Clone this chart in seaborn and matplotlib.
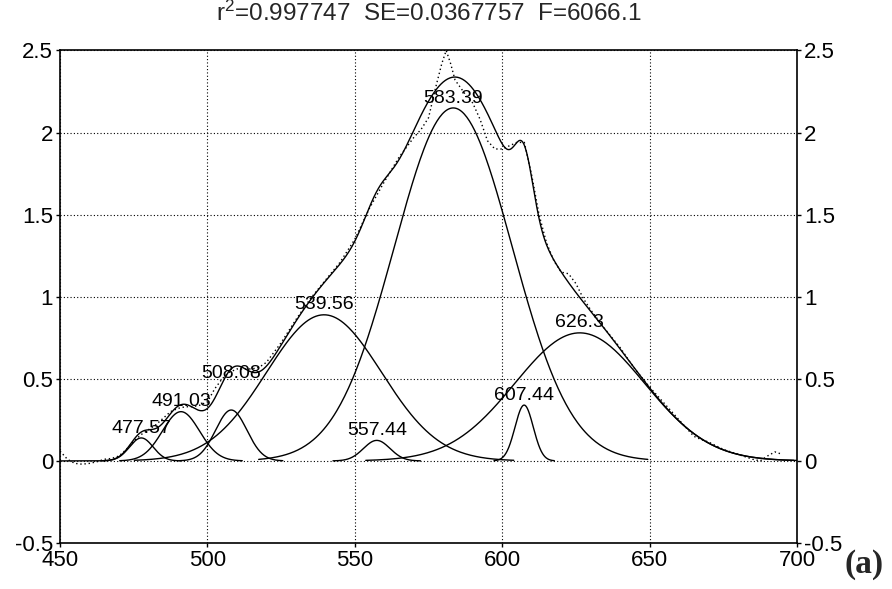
import numpy as np
import matplotlib
matplotlib.use("Agg")
import matplotlib.pyplot as plt
from matplotlib.ticker import FuncFormatter
import seaborn as sns

# fitted peaks: centre (nm), height, gaussian width (nm)
peak_centers = [477.57, 491.03, 508.08, 539.56, 557.44, 583.39, 607.44, 626.3]
peak_heights = [0.14, 0.30, 0.31, 0.89, 0.125, 2.15, 0.34, 0.78]
peak_widths = [4.0, 6.3, 5.3, 19.5, 4.5, 20.0, 3.1, 22.0]
peak_labels = ["477.57", "491.03", "508.08", "539.56", "557.44", "583.39", "607.44", "626.3"]

# measured spectrum (dotted)
obs_nm = [450, 452.5, 455, 457.5, 460, 462.5, 465, 467.5, 470, 472.5, 475, 477.5,
          480, 482.5, 485, 487.5, 490, 492.5, 495, 497.5, 500, 502.5, 505, 507.5,
          510, 512.5, 515, 517.5, 520, 525, 530, 535, 540, 545, 550, 555, 560, 565,
          570, 572.5, 575, 577.5, 579.5, 581, 582.5, 584, 586, 588, 590, 592.5, 595,
          597.5, 600, 602.5, 605, 607.5, 610, 612.5, 615, 617.5, 620, 622.5, 625,
          627.5, 630, 635, 640, 645, 650, 655, 657.5, 660, 662.5, 665, 667.5, 670,
          675, 680, 685, 687.5, 690, 692.5, 695]
obs_abs = [0.06, 0.01, -0.015, -0.02, -0.015, -0.005, 0.01, 0.015, 0.03, 0.07, 0.12, 0.16,
           0.19, 0.22, 0.26, 0.30, 0.32, 0.33, 0.33, 0.34, 0.36, 0.44, 0.50, 0.54,
           0.56, 0.56, 0.56, 0.57, 0.60, 0.72, 0.86, 0.99, 1.10, 1.21, 1.35, 1.54, 1.70, 1.85,
           1.97, 2.02, 2.09, 2.28, 2.42, 2.50, 2.42, 2.32, 2.27, 2.22, 2.18, 2.08, 1.95,
           1.90, 1.90, 1.92, 1.94, 1.94, 1.74, 1.50, 1.33, 1.22, 1.15, 1.14, 1.08,
           0.99, 0.92, 0.80, 0.69, 0.56, 0.45, 0.35, 0.30, 0.25, 0.20, 0.15, 0.13, 0.115,
           0.07, 0.04, 0.01, 0.0, 0.03, 0.055, 0.04]

title_text = "r$^2$=0.997747  SE=0.0367757  F=6066.1"
x_ticks = [450, 500, 550, 600, 650, 700]
y_ticks = [-0.5, 0, 0.5, 1, 1.5, 2, 2.5]


def gauss(x, c, h, w):
    return h * np.exp(-(x - c) ** 2 / (2 * w * w))


sns.set_theme(style="white")
plt.rcParams["font.family"] = ["Liberation Sans", "DejaVu Sans"]
plt.rcParams["mathtext.fontset"] = "custom"
plt.rcParams["mathtext.rm"] = "Liberation Sans"
plt.rcParams["mathtext.default"] = "regular"

fig = plt.figure(figsize=(8.92, 5.89), dpi=100)
ax = fig.add_axes([0.0673, 0.0781, 0.8262, 0.8362])

grid_x = np.linspace(450, 700, 1001)
fit = np.zeros_like(grid_x)
for c, h, w in zip(peak_centers, peak_heights, peak_widths):
    fit += gauss(grid_x, c, h, w)
sns.lineplot(x=grid_x, y=fit, color="black", lw=1.0, ax=ax, estimator=None, sort=False)

for c, h, w, lab in zip(peak_centers, peak_heights, peak_widths, peak_labels):
    xs = np.linspace(max(450, c - 3.3 * w), min(700, c + 3.3 * w), 300)
    sns.lineplot(x=xs, y=gauss(xs, c, h, w), color="black", lw=1.0, ax=ax,
                 estimator=None, sort=False)
    # the 508.08 label is pushed up so it clears the 491.03 one
    off = 20 if lab == "508.08" else 1
    ax.annotate(lab, (c, h), xytext=(0, off), textcoords="offset points",
                ha="center", va="bottom", fontsize=14, color="black")

sns.lineplot(x=obs_nm, y=obs_abs, color="black", lw=1.0, linestyle=(0, (1, 2)),
             ax=ax, estimator=None, sort=False)

ax.set_xlim(450, 700)
ax.set_ylim(-0.5, 2.5)
ax.set_xticks(x_ticks)
ax.set_yticks(y_ticks)
ax.yaxis.set_major_formatter(FuncFormatter(lambda v, p: "%g" % v))
ax.set_xlabel("")
ax.set_ylabel("")
ax.grid(True, color="black", linestyle=(0, (1, 2)), linewidth=0.8)
ax.tick_params(axis="both", direction="out", length=3, width=1, color="black",
               labelsize=16, labelcolor="black", pad=2)
ax.tick_params(axis="y", right=True, labelright=True, left=True)
ax.tick_params(axis="x", bottom=True)
for sp in ax.spines.values():
    sp.set_color("black")
    sp.set_linewidth(1.2)

fig.text(429 / 892, 1 - 13 / 589, title_text, ha="center", va="center", fontsize=17.5)
fig.text(864 / 892, 1 - 565 / 589, "(a)", ha="center", va="center", fontsize=24,
         fontweight="bold", family="Liberation Serif")

fig.savefig("out.png", dpi=100)
